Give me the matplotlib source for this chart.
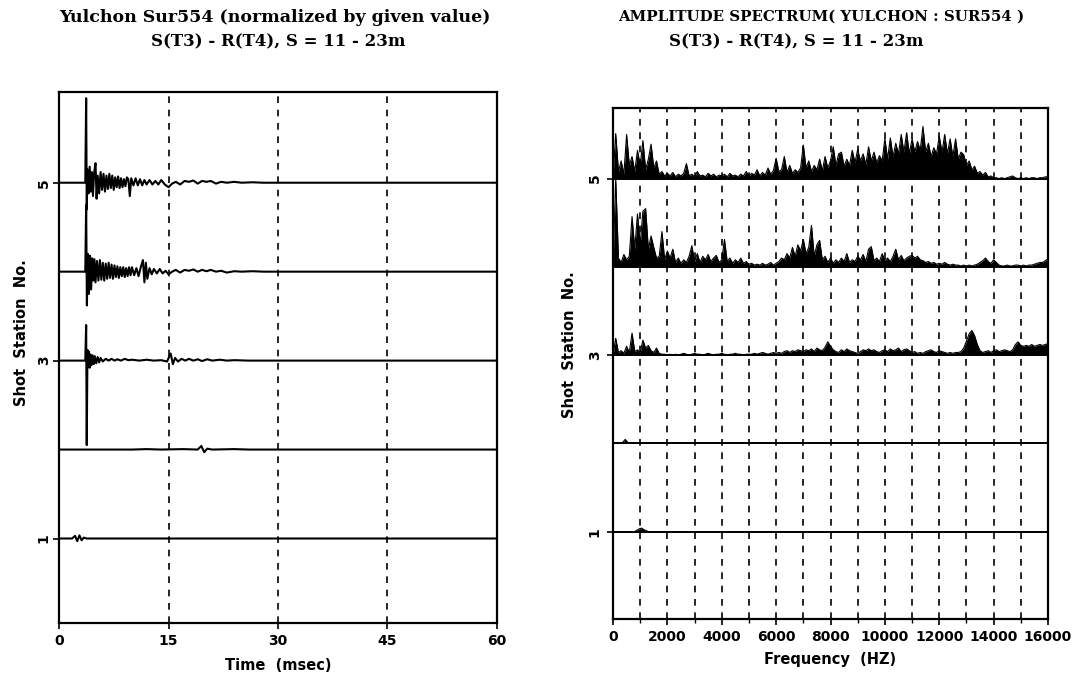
import numpy as np
import matplotlib
matplotlib.use("Agg")
import matplotlib.pyplot as plt

# ---- time-domain traces (msec, normalized amplitude) ----
stations = [1, 2, 3, 4, 5]

t1 = [0, 1.8, 2.2, 2.5, 2.8, 3.1, 3.4, 3.8, 60]
a1 = [0, 0, 0.03, -0.03, 0.035, -0.02, 0.01, 0, 0]

t2 = [0, 10, 12, 14, 17, 19.0, 19.5, 19.9, 20.3, 21, 24, 26, 60]
a2 = [0, 0, 0.005, 0, 0.005, 0, 0.04, -0.03, 0.01, 0, 0.005, 0, 0]

t3 = [0, 3.6, 3.72, 3.8, 3.9, 4.0, 4.1, 4.2, 4.3, 4.45, 4.6, 4.75, 4.9, 5.1,
      5.3, 5.5, 5.7, 6.0, 6.4, 6.8, 7.2, 7.6, 8.0, 8.5, 9.0, 9.5, 10.0, 11,
      12, 13, 14, 14.8, 15.3, 15.6, 15.9, 16.3, 16.8, 17.3, 17.8, 18.4, 19.0,
      19.6, 20.3, 21, 22, 23, 24, 26, 60]
a3 = [0, 0, 0.4, -0.95, 0.12, -0.06, 0.1, -0.08, 0.07, -0.05, 0.06, -0.04,
      0.05, -0.03, 0.04, -0.02, 0.03, -0.01, 0.02, 0.0, 0.02, 0.0, 0.015, 0.0,
      0.02, 0.005, 0.01, 0, 0.01, 0, 0.005, -0.01, 0.08, -0.04, 0.03, -0.01,
      0.02, 0.0, 0.02, 0.0, 0.015, -0.005, 0.015, 0, 0.01, 0, 0.005, 0, 0]

t4 = [0, 3.6, 3.72, 3.82, 3.95, 4.1, 4.25, 4.4, 4.55, 4.7, 4.85, 5.0, 5.2,
      5.4, 5.6, 5.8, 6.0, 6.2, 6.4, 6.6, 6.8, 7.0, 7.2, 7.4, 7.6, 7.8, 8.0,
      8.2, 8.4, 8.6, 8.8, 9.0, 9.2, 9.4, 9.6, 9.8, 10.0, 10.3, 10.6, 10.9,
      11.2, 11.5, 11.7, 11.9, 12.1, 12.4, 12.7, 13.0, 13.4, 13.8, 14.2, 14.6,
      15.0, 15.5, 16.0, 16.6, 17.2, 17.8, 18.4, 19.0, 19.6, 20.2, 20.8, 21.5,
      22.2, 23, 24, 25, 26.5, 28, 30, 60]
a4 = [0, 0, 0.75, -0.38, 0.2, -0.25, 0.18, -0.2, 0.15, -0.1, 0.14, -0.12,
      0.12, -0.1, 0.13, -0.09, 0.1, -0.1, 0.09, -0.08, 0.1, -0.07, 0.08,
      -0.08, 0.07, -0.06, 0.06, -0.07, 0.05, -0.05, 0.05, -0.06, 0.04, -0.05,
      0.05, -0.04, 0.05, -0.04, 0.04, -0.05, 0.05, 0.13, -0.12, 0.1, -0.08,
      0.04, -0.03, 0.03, -0.02, 0.03, -0.02, 0.01, -0.03, 0.0, 0.02, -0.01,
      0.02, 0.01, 0.025, 0.0, 0.02, 0.005, 0.02, 0.0, 0.01, -0.01, 0.005, 0,
      0.005, 0, 0, 0]

t5 = [0, 3.6, 3.72, 3.8, 3.9, 4.05, 4.2, 4.35, 4.5, 4.65, 4.8, 5.0, 5.15,
      5.3, 5.5, 5.7, 5.9, 6.1, 6.3, 6.5, 6.7, 6.9, 7.1, 7.3, 7.5, 7.7, 7.9,
      8.1, 8.3, 8.5, 8.7, 8.9, 9.1, 9.3, 9.5, 9.7, 9.9, 10.2, 10.5, 10.8,
      11.1, 11.4, 11.7, 12.0, 12.4, 12.8, 13.2, 13.6, 14.0, 14.5, 15.0, 15.5,
      16.0, 16.6, 17.2, 17.8, 18.4, 19.0, 19.6, 20.2, 20.8, 21.5, 22.2, 23,
      24, 25, 26.5, 28, 30, 60]
a5 = [0, 0, 0.95, -0.3, 0.15, -0.12, 0.18, -0.1, 0.12, -0.15, 0.1, 0.22,
      -0.18, 0.08, -0.12, 0.12, -0.08, 0.1, -0.1, 0.08, -0.07, 0.1, -0.06,
      0.08, -0.08, 0.06, -0.05, 0.07, -0.06, 0.05, -0.05, 0.04, -0.04, 0.06,
      0.04, -0.15, 0.05, -0.03, 0.05, -0.03, 0.04, -0.03, 0.03, -0.02, 0.03,
      -0.02, 0.02, -0.02, 0.03, -0.02, -0.05, -0.01, 0.01, -0.02, 0.02, 0.01,
      0.025, -0.01, 0.02, 0.01, 0.02, -0.01, 0.01, 0, 0.01, 0, 0.005, 0, 0, 0]

traces = [(t1, a1), (t2, a2), (t3, a3), (t4, a4), (t5, a5)]

# ---- amplitude spectra, 100 Hz bins from 0 to 16000 Hz ----
freq = np.arange(0, 16001, 100)

spec5 = [0.0,
         0.51, 0.08, 0.20, 0.05, 0.50, 0.15, 0.25, 0.08, 0.32, 0.15,
         0.43, 0.10, 0.22, 0.39, 0.12, 0.20, 0.05, 0.08, 0.03, 0.06,
         0.03, 0.07, 0.02, 0.05, 0.03, 0.06, 0.17, 0.03, 0.05, 0.02,
         0.08, 0.03, 0.04, 0.02, 0.06, 0.03, 0.05, 0.02, 0.04, 0.03,
         0.05, 0.02, 0.06, 0.03, 0.04, 0.02, 0.05, 0.03, 0.08, 0.03,
         0.06, 0.04, 0.10, 0.03, 0.07, 0.04, 0.12, 0.05, 0.09, 0.23,
         0.08, 0.10, 0.25, 0.07, 0.15, 0.06, 0.10, 0.07, 0.12, 0.38,
         0.12, 0.20, 0.08, 0.15, 0.10, 0.22, 0.09, 0.25, 0.12, 0.20,
         0.36, 0.15, 0.28, 0.30, 0.14, 0.22, 0.15, 0.32, 0.18, 0.33,
         0.20, 0.28, 0.16, 0.36, 0.20, 0.30, 0.18, 0.26, 0.20, 0.45,
         0.22, 0.46, 0.25, 0.40, 0.28, 0.50, 0.30, 0.52, 0.28, 0.45,
         0.30, 0.42, 0.32, 0.59, 0.30, 0.40, 0.25, 0.35, 0.28, 0.48,
         0.30, 0.50, 0.28, 0.45, 0.25, 0.45, 0.22, 0.30, 0.27, 0.15,
         0.20, 0.10, 0.14, 0.06, 0.08, 0.04, 0.07, 0.02, 0.03, 0.01,
         0.01, 0.00, 0.01, 0.00, 0.01, 0.02, 0.03, 0.01, 0.00, 0.01,
         0.00, 0.01, 0.00, 0.01, 0.01, 0.00, 0.01, 0.01, 0.02, 0.02]

spec4 = [0.0,
         1.00, 0.10, 0.05, 0.14, 0.08, 0.12, 0.57, 0.20, 0.60, 0.25,
         0.63, 0.66, 0.20, 0.35, 0.22, 0.10, 0.12, 0.40, 0.08, 0.18,
         0.10, 0.20, 0.05, 0.10, 0.04, 0.08, 0.05, 0.12, 0.24, 0.06,
         0.15, 0.05, 0.12, 0.08, 0.14, 0.06, 0.10, 0.13, 0.05, 0.08,
         0.31, 0.06, 0.10, 0.04, 0.08, 0.05, 0.10, 0.04, 0.06, 0.03,
         0.04, 0.02, 0.03, 0.02, 0.04, 0.02, 0.03, 0.05, 0.02, 0.04,
         0.06, 0.10, 0.08, 0.15, 0.10, 0.22, 0.12, 0.25, 0.18, 0.31,
         0.15, 0.22, 0.47, 0.12, 0.25, 0.30, 0.08, 0.12, 0.05, 0.10,
         0.04, 0.08, 0.05, 0.10, 0.06, 0.15, 0.05, 0.08, 0.06, 0.12,
         0.08, 0.14, 0.06, 0.20, 0.23, 0.07, 0.10, 0.06, 0.15, 0.07,
         0.10, 0.06, 0.12, 0.20, 0.08, 0.13, 0.07, 0.10, 0.12, 0.13,
         0.10, 0.12, 0.08, 0.07, 0.05, 0.06, 0.04, 0.05, 0.03, 0.04,
         0.03, 0.05, 0.03, 0.02, 0.03, 0.02, 0.02, 0.01, 0.02, 0.01,
         0.02, 0.01, 0.02, 0.03, 0.05, 0.07, 0.10, 0.06, 0.04, 0.08,
         0.05, 0.02, 0.01, 0.01, 0.02, 0.01, 0.01, 0.02, 0.02, 0.01,
         0.02, 0.01, 0.02, 0.02, 0.03, 0.04, 0.05, 0.05, 0.07, 0.09]

spec3 = [0.0,
         0.19, 0.03, 0.05, 0.02, 0.10, 0.03, 0.25, 0.04, 0.06, 0.03,
         0.17, 0.08, 0.11, 0.05, 0.03, 0.08, 0.02, 0.01, 0.01, 0.00,
         0.01, 0.00, 0.01, 0.00, 0.01, 0.02, 0.01, 0.00, 0.01, 0.02,
         0.01, 0.01, 0.00, 0.01, 0.02, 0.01, 0.00, 0.01, 0.01, 0.02,
         0.01, 0.00, 0.01, 0.01, 0.02, 0.01, 0.01, 0.00, 0.01, 0.01,
         0.01, 0.02, 0.01, 0.02, 0.03, 0.02, 0.01, 0.02, 0.03, 0.02,
         0.03, 0.02, 0.04, 0.05, 0.03, 0.05, 0.04, 0.06, 0.05, 0.04,
         0.06, 0.05, 0.07, 0.04, 0.08, 0.06, 0.05, 0.09, 0.15, 0.10,
         0.06, 0.04, 0.03, 0.06, 0.04, 0.07, 0.05, 0.04, 0.03, 0.02,
         0.04, 0.06, 0.05, 0.07, 0.05, 0.06, 0.04, 0.03, 0.05, 0.06,
         0.04, 0.07, 0.05, 0.06, 0.08, 0.04, 0.06, 0.07, 0.05, 0.03,
         0.04, 0.02, 0.03, 0.02, 0.04, 0.05, 0.06, 0.04, 0.03, 0.05,
         0.04, 0.03, 0.02, 0.03, 0.02, 0.03, 0.03, 0.04, 0.08, 0.16,
         0.24, 0.28, 0.22, 0.12, 0.05, 0.03, 0.04, 0.05, 0.03, 0.05,
         0.06, 0.04, 0.05, 0.06, 0.05, 0.04, 0.06, 0.12, 0.15, 0.11,
         0.10, 0.11, 0.10, 0.12, 0.10, 0.11, 0.12, 0.11, 0.12, 0.13]

f2 = [0, 200, 350, 450, 550, 700, 16000]
s2 = [0, 0.005, 0.01, 0.045, 0.01, 0.0, 0.0]
f1 = [0, 800, 950, 1050, 1150, 1300, 16000]
s1 = [0, 0.0, 0.03, 0.04, 0.02, 0.0, 0.0]

spectra = [(f1, s1), (f2, s2), (freq, spec3), (freq, spec4), (freq, spec5)]

label_font = dict(family="DejaVu Sans", weight="bold", size=10.5)
title_font = dict(family="DejaVu Serif", weight="bold")

W, H = 1079, 678
fig = plt.figure(figsize=(W / 100, H / 100), dpi=100)
ax1 = fig.add_axes([59 / W, 1 - 623 / H, (497 - 59) / W, (623 - 92) / H])
ax2 = fig.add_axes([613 / W, 1 - 619 / H, (1048 - 613) / W, (619 - 108) / H])

# time traces
for st, (t, a) in zip(stations, traces):
    ax1.plot(t, np.array(a) + st, color="black", lw=1.5)
for x in [15, 30, 45]:
    ax1.axvline(x, color="black", lw=1.2, ls=(0, (4, 4)))
ax1.set_xlim(0, 60)
ax1.set_ylim(0.05, 6.02)
ax1.set_xticks([0, 15, 30, 45, 60])
ax1.set_xlabel("Time  (msec)", fontdict=label_font, labelpad=7)

# spectra
for st, (f, s) in zip(stations, spectra):
    f = np.asarray(f)
    y = np.asarray(s) + st
    ax2.fill_between(f, st, y, color="black", lw=0)
    ax2.plot(f, y, color="black", lw=0.8)
    ax2.plot([0, 16000], [st, st], color="black", lw=1.4)
for x in range(1000, 16000, 1000):
    ax2.axvline(x, color="black", lw=1.2, ls=(0, (4, 4)))
ax2.set_xlim(0, 16000)
ax2.set_ylim(0.01, 5.8)
ax2.set_xticks(range(0, 16001, 2000))
ax2.set_xticks(range(1000, 16000, 2000), minor=True)
ax2.set_xlabel("Frequency  (HZ)", fontdict=label_font, labelpad=6)

for ax in (ax1, ax2):
    ax.set_yticks([1, 3, 5])
    ax.set_yticklabels(["1", "3", "5"], rotation=90, va="center")
    ax.set_ylabel("Shot  Station  No.", fontdict=label_font)
    for lab in ax.get_xticklabels() + ax.get_yticklabels():
        lab.set_fontfamily("DejaVu Sans")
        lab.set_fontweight("bold")
        lab.set_fontsize(10)
    ax.tick_params(direction="out", length=4, width=1.2, pad=4)
    ax.tick_params(which="minor", direction="out", length=3, width=1.0)
    for sp in ax.spines.values():
        sp.set_linewidth(1.6)

ax1.tick_params(axis="y", pad=2)
ax1.yaxis.set_label_coords(-0.068, 0.546)
ax2.yaxis.set_label_coords(-0.083, 0.536)

fig.text(275 / W, 1 - 18 / H, "Yulchon Sur554 (normalized by given value)",
         ha="center", va="center", size=12.5, **title_font)
fig.text(278 / W, 1 - 42 / H, "S(T3) - R(T4), S = 11 - 23m",
         ha="center", va="center", size=12, **title_font)
fig.text(821 / W, 1 - 17 / H, "AMPLITUDE SPECTRUM( YULCHON : SUR554 )",
         ha="center", va="center", size=10.8, **title_font)
fig.text(796 / W, 1 - 42 / H, "S(T3) - R(T4), S = 11 - 23m",
         ha="center", va="center", size=12, **title_font)

fig.savefig("out.png", dpi=100)
